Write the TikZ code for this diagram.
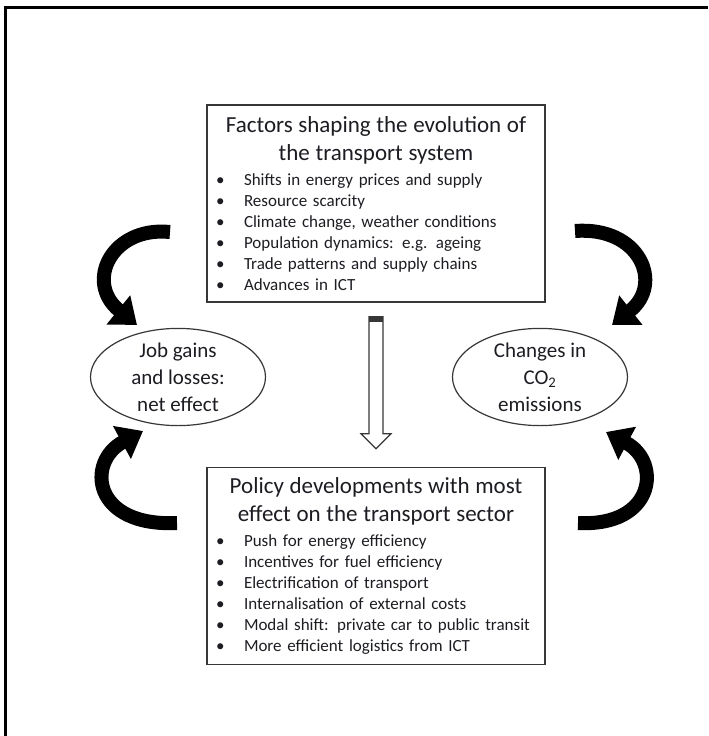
\documentclass[tikz,border=0pt]{standalone}
\usepackage{fontspec}
\setmainfont{Carlito}
\usetikzlibrary{positioning, calc, arrows.meta, shapes.geometric}
\definecolor{ink}{RGB}{28,28,34}
\definecolor{rule}{RGB}{55,55,55}
\newcommand{\headfont}{\fontsize{23}{21}\selectfont}
\newcommand{\listfont}{\fontsize{17}{21}\selectfont\lineskiplimit=-100pt}
\newcommand{\bitem}[1]{\makebox[338pt][l]{\hspace{9pt}\makebox[28pt][l]{\textbullet}#1}}
\tikzset{
  panel/.style={draw=rule,line width=1.4pt,text width=338pt,inner xsep=0pt,
    inner ysep=4pt,minimum height=197pt,align=center,text=ink,font=\listfont},
  blob/.style={ellipse,draw=rule,line width=1.2pt,minimum width=175pt,
    minimum height=87pt,inner sep=0pt,align=center,text=ink,
    font={\fontsize{21}{27}\selectfont\lineskiplimit=-100pt}},
  swirl/.style={line width=14pt,-{Triangle[length=24pt,width=36pt]}},
  hollow/.style={draw=rule,line width=1.2pt,fill=white},
}

\begin{document}
\begin{tikzpicture}[x=1pt,y=-1pt]
  \useasboundingbox (0,0) rectangle (709,736);
  \draw[line width=3pt] (708,7) -- (5,7) -- (5,736);

  \node[panel] (factors) at (376,203.5) {%
    \headfont Factors shaping the evolution of\\[7pt]
    the transport system\\[4pt]
    \listfont
    \bitem{Shifts in energy prices and supply}\\
    \bitem{Resource scarcity}\\
    \bitem{Climate change, weather conditions}\\
    \bitem{Population dynamics: e.g. ageing}\\
    \bitem{Trade patterns and supply chains}\\
    \bitem{Advances in ICT}};
  \node[panel,below=164pt of factors] (policy) {%
    \headfont Policy developments with most\\[7pt]
    effect on the transport sector\\[4pt]
    \listfont
    \bitem{Push for energy efficiency}\\
    \bitem{Incentives for fuel efficiency}\\
    \bitem{Electrification of transport}\\
    \bitem{Internalisation of external costs}\\
    \bitem{Modal shift: private car to public transit}\\
    \bitem{More efficient logistics from ICT}};

  \node[blob] (jobs) at (178,377) {Job gains\\and losses:\\net effect};
  \node[blob] (co2) at (540,377) {Changes in\\CO\textsubscript{2}\\emissions};

  % hollow arrow from factors down to policy
  \coordinate (dn) at ($(factors.south)+(0,14)$);
  \coordinate (dtip) at ($(policy.north)+(0,-18)$);
  \draw[hollow] (dn) ++(-7,0) -- ++(14,0) -- ++(0,117) -- ++(8,0) -- (dtip)
    -- ++(-15,-15) -- ++(8,0) -- cycle;
  \fill[rule] (dn) ++(-7,0) rectangle ++(14,5);

  % curved arrows towards the two outcomes
  \coordinate (lu) at (170,232);
  \coordinate (lut) at (137,325);
  \coordinate (ll) at (177,523);
  \coordinate (llt) at (143,431);
  \coordinate (ru) at (575,231);
  \coordinate (rut) at (612,325);
  \coordinate (rl) at (578,523);
  \coordinate (rlt) at (606,432);
  \draw[swirl] (lu) .. controls (112,226) and (84,282) .. (lut);
  \draw[swirl] (ll) .. controls (92,527) and (86,462) .. (llt);
  \draw[swirl] (ru) .. controls (640,226) and (664,284) .. (rut);
  \draw[swirl] (rl) .. controls (655,527) and (662,462) .. (rlt);
\end{tikzpicture}
\end{document}
